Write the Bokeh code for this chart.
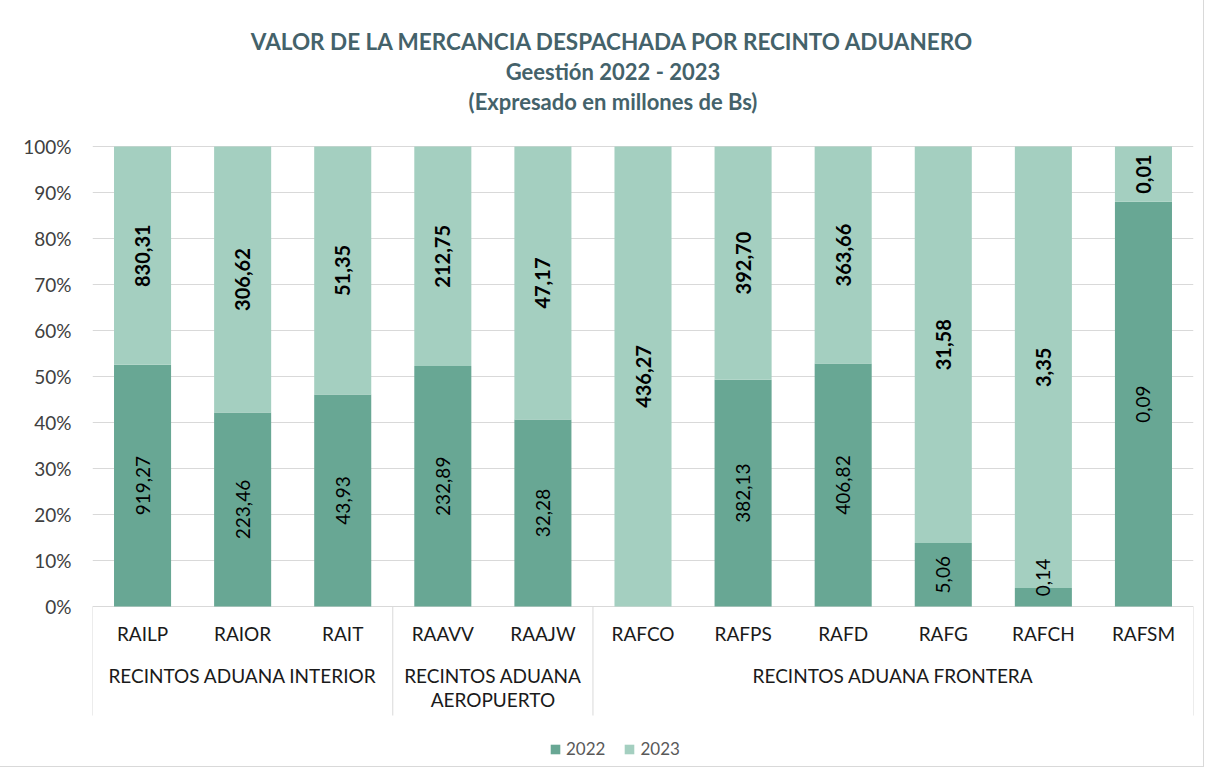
import math
from bokeh.plotting import figure
from bokeh.models import FactorRange, Range1d, FixedTicker, ColumnDataSource, Legend, LegendItem
from bokeh.embed import file_html
from bokeh.resources import INLINE
from bokeh.core.properties import value

# ---------------- data ----------------
codes = ["RAILP", "RAIOR", "RAIT", "RAAVV", "RAAJW", "RAFCO", "RAFPS", "RAFD", "RAFG", "RAFCH", "RAFSM"]
groups = ["RECINTOS ADUANA INTERIOR", "RECINTOS ADUANA\nAEROPUERTO", "RECINTOS ADUANA FRONTERA"]
group_sizes = [3, 2, 6]
years = ["2022", "2023"]
v2022 = [919.27, 223.46, 43.93, 232.89, 32.28, 0.0, 382.13, 406.82, 5.06, 0.14, 0.088]
v2023 = [830.31, 306.62, 51.35, 212.75, 47.17, 436.27, 392.70, 363.66, 31.58, 3.35, 0.012]
y_ticks = [i / 10 for i in range(11)]
y_tick_labels = ["0%", "10%", "20%", "30%", "40%", "50%", "60%", "70%", "80%", "90%", "100%"]
titles = ["VALOR DE LA MERCANCIA DESPACHADA POR RECINTO ADUANERO",
          "Geestión 2022 - 2023",
          "(Expresado en millones de Bs)"]

# ---------------- styles ----------------
C22 = "#68A794"
C23 = "#A4CFC0"
GRID = "#D9D9D9"
TITLE_C = "#44626A"
FONT = "Lato"

def fmt(v):
    return f"{v:.2f}".replace(".", ",")

tot = [a + b for a, b in zip(v2022, v2023)]
s22 = [a / t for a, t in zip(v2022, tot)]
s23 = [b / t for b, t in zip(v2023, tot)]

src = ColumnDataSource(dict(code=codes, s2022=s22, s2023=s23))

p = figure(width=1203, height=766,
           x_range=FactorRange(*codes),
           y_range=Range1d(-0.34783, 1.31739),
           x_axis_location=None,
           toolbar_location=None, output_backend="svg",
           min_border_left=92, min_border_right=10, min_border_top=0, min_border_bottom=0)
p.outline_line_color = None
p.styles = {"outline": "1px solid #D9D9D9"}

# y axis
p.yaxis.ticker = FixedTicker(ticks=y_ticks)
p.yaxis.major_label_overrides = {t: l for t, l in zip(y_ticks, y_tick_labels)}
p.yaxis.axis_line_color = None
p.yaxis.major_tick_line_color = None
p.yaxis.minor_tick_line_color = None
p.yaxis.major_label_standoff = 15
p.yaxis.major_label_text_font = FONT
p.yaxis.major_label_text_font_size = "19px"
p.yaxis.major_label_text_color = "#404040"
p.xgrid.visible = False
p.ygrid.ticker = FixedTicker(ticks=y_ticks)
p.ygrid.grid_line_color = GRID
p.ygrid.grid_line_width = 1

# bars
rs = p.vbar_stack(["s2022", "s2023"], x="code", width=0.57, source=src,
                  fill_color=[C22, C23], line_color=None)

# value labels
lx22, ly22, lt22 = [], [], []
lx23, ly23, lt23 = [], [], []
for c, a, b, sa, sb in zip(codes, v2022, v2023, s22, s23):
    if a > 0:
        lx22.append(c); ly22.append(max(sa / 2, 0.063)); lt22.append(fmt(a))
    if b > 0:
        lx23.append(c); ly23.append(sa + sb / 2); lt23.append(fmt(b))
p.text(x="x", y="y", text="t", source=ColumnDataSource(dict(x=lx22, y=ly22, t=lt22)),
       angle=math.pi / 2, text_align="center", text_baseline="middle",
       text_font=value(FONT), text_font_size="19px", text_color="#000000")
p.text(x="x", y="y", text="t", source=ColumnDataSource(dict(x=lx23, y=ly23, t=lt23)),
       angle=math.pi / 2, text_align="center", text_baseline="middle",
       text_font=value(FONT), text_font_size="20px", text_font_style="bold", text_color="#000000")

# category axis (drawn below the zero line)
p.text(x=codes, y=[-0.0587] * len(codes), text=codes, text_align="center", text_baseline="middle",
       text_font=value(FONT), text_font_size="19px", text_color="#1A1A1A")

# group separators and labels
sep_x = [(codes[0], -0.5)]
gx, gy, gt = [], [], []
start = 0
for g, n in zip(groups, group_sizes):
    end = start + n - 1
    sep_x.append((codes[end], 0.5))
    mid = (start + end) / 2
    base = int(math.floor(mid))
    for k, line in enumerate(g.split("\n")):
        gx.append((codes[base], mid - base))
        gy.append(-0.15 - k * 0.0522)
        gt.append(line)
    start = end + 1
p.segment(x0=sep_x, y0=[0] * len(sep_x), x1=sep_x, y1=[-0.237] * len(sep_x),
          line_color=GRID, line_width=1)
p.text(x="x", y="y", text="t", source=ColumnDataSource(dict(x=gx, y=gy, t=gt)),
       text_align="center", text_baseline="middle",
       text_font=value(FONT), text_font_size="19px", text_color="#1A1A1A")

# titles
tx = ("RAFCO", -0.3)
p.text(x=[tx], y=[1.2283], text=[titles[0]], text_align="center", text_baseline="middle",
       text_font=value(FONT), text_font_size="22.5px", text_font_style="bold", text_color=TITLE_C)
p.text(x=[tx, tx], y=[1.163, 1.0978], text=titles[1:], text_align="center", text_baseline="middle",
       text_font=value(FONT), text_font_size="22px", text_font_style="bold", text_color=TITLE_C)

# legend
legend = Legend(items=[LegendItem(label=value(years[0]), renderers=[rs[0]]),
                       LegendItem(label=value(years[1]), renderers=[rs[1]])],
                orientation="horizontal", location=(457, 7),
                glyph_width=12, glyph_height=12, label_standoff=5, spacing=18,
                padding=0, margin=0, border_line_color=None, background_fill_alpha=0,
                label_text_font=FONT, label_text_font_size="17px", label_text_color="#595959")
p.add_layout(legend)

open("out.html", "w").write(file_html(p, INLINE))
